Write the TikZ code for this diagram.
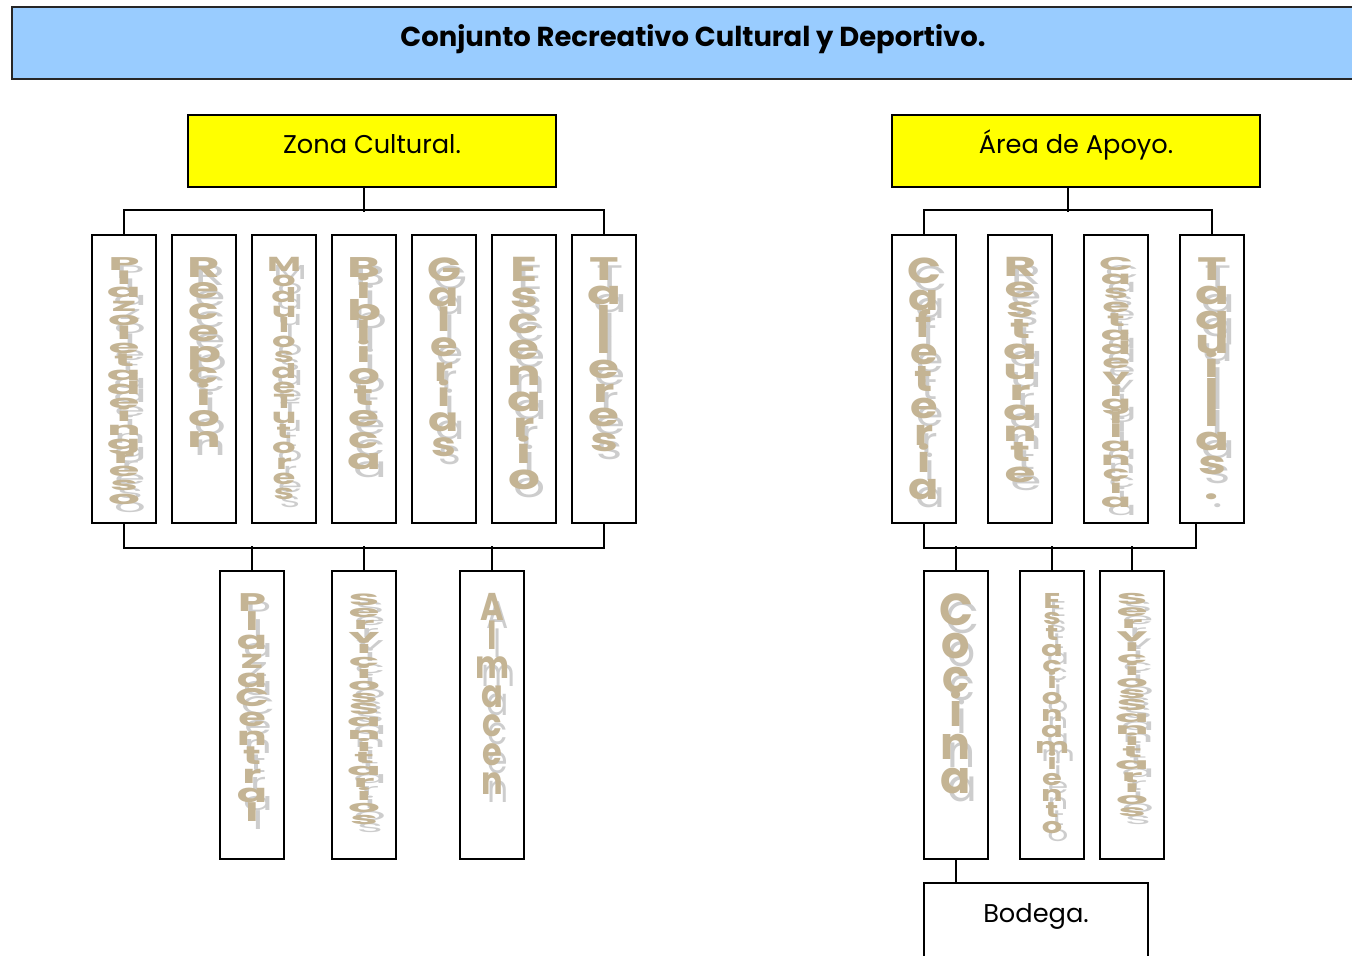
\documentclass[tikz,border=0pt]{standalone}
\usepackage{fontspec}
\setmainfont{Poppins}
\usepackage{graphicx}
\usetikzlibrary{positioning}
\usepackage{xcolor}
\definecolor{titlecolor}{RGB}{153,204,255}
\definecolor{zonecolor}{RGB}{255,255,0}
\definecolor{lettercolor}{RGB}{196,180,148}
\definecolor{shadowcolor}{RGB}{205,205,205}

% stack the letters of a word one under the other, squeezed to a given height
\makeatletter
\def\stack@letters#1{\ifx\relax#1\else#1\cr\expandafter\stack@letters\fi}
\newcommand{\vword}[2]{%
  \edef\vword@rows{\stack@letters#2\relax}%
  \resizebox*{0.68cm}{#1}{\vbox{\baselineskip=15pt\lineskiplimit=-\maxdimen\lineskip=0pt
    \halign{\hfil##\hfil\cr\vword@rows}}}}
\makeatother

\begin{document}
\begin{tikzpicture}
  \tikzset{
    titlebar/.style={
      draw=black!85,
      line width=0.8pt,
      fill=titlecolor,
      minimum width=27.24cm,
      minimum height=1.44cm,
      text height=0.42cm,
      text depth=0.3cm,
      anchor=center,
      font=\bfseries\fontsize{15.6}{18}\selectfont
    },
    zone/.style={
      draw,
      line width=0.9pt,
      fill=zonecolor,
      minimum width=7.36cm,
      minimum height=1.44cm,
      text height=0.42cm,
      text depth=0.34cm,
      anchor=center,
      font=\fontsize{14.6}{17}\selectfont
    },
    cell/.style={
      draw,
      line width=0.9pt,
      minimum width=1.28cm,
      minimum height=5.76cm,
      inner sep=0pt,
      anchor=center,
      fill=white
    },
    letters/.style={
      inner sep=0pt,
      anchor=north,
      text=lettercolor,
      font=\bfseries\fontsize{20}{15}\selectfont
    },
    shade/.style={
      inner sep=0pt,
      anchor=north,
      text=shadowcolor,
      font=\fontsize{20}{15}\selectfont
    },
    link/.style={
      draw,
      line width=0.9pt
    }
  }

  \useasboundingbox (0,0) rectangle (27.04,-19.10);
  \clip (0,0) rectangle (27.04,-19.10);

  % Title bar
  \node[titlebar] (title) at (13.86,-0.86) {Conjunto Recreativo Cultural y Deportivo.};

  % The two zones
  \node[zone] (cultural) at (7.44,-3.02) {Zona Cultural.};
  \node[zone] (apoyo) at (21.52,-3.02) {Área de Apoyo.};

  % Zona Cultural, first row
  \node[cell] at (2.48,-7.58) (plazoleta) {};
  \node[shade, below=0.62cm of plazoleta.north, xshift=0.12cm] {\vword{4.94cm}{Plazoleta de ingreso}};
  \node[letters, below=0.46cm of plazoleta.north] {\vword{4.94cm}{Plazoleta de ingreso}};
  \node[cell] at (4.08,-7.58) (recepcion) {};
  \node[shade, below=0.62cm of recepcion.north, xshift=0.12cm] {\vword{3.80cm}{Recepcion}};
  \node[letters, below=0.46cm of recepcion.north] {\vword{3.80cm}{Recepcion}};
  \node[cell] at (5.68,-7.58) (modulos) {};
  \node[shade, below=0.62cm of modulos.north, xshift=0.12cm] {\vword{4.84cm}{Modulos de Tutores}};
  \node[letters, below=0.46cm of modulos.north] {\vword{4.84cm}{Modulos de Tutores}};
  \node[cell] at (7.28,-7.58) (biblioteca) {};
  \node[shade, below=0.62cm of biblioteca.north, xshift=0.12cm] {\vword{4.24cm}{Biblioteca}};
  \node[letters, below=0.46cm of biblioteca.north] {\vword{4.24cm}{Biblioteca}};
  \node[cell] at (8.88,-7.58) (galerias) {};
  \node[shade, below=0.62cm of galerias.north, xshift=0.12cm] {\vword{3.98cm}{Galerias}};
  \node[letters, below=0.46cm of galerias.north] {\vword{3.98cm}{Galerias}};
  \node[cell] at (10.48,-7.58) (escenario) {};
  \node[shade, below=0.62cm of escenario.north, xshift=0.12cm] {\vword{4.64cm}{Escenario}};
  \node[letters, below=0.46cm of escenario.north] {\vword{4.64cm}{Escenario}};
  \node[cell] at (12.08,-7.58) (talleres) {};
  \node[shade, below=0.62cm of talleres.north, xshift=0.12cm] {\vword{3.88cm}{Talleres}};
  \node[letters, below=0.46cm of talleres.north] {\vword{3.88cm}{Talleres}};

  % Zona Cultural, second row
  \node[cell] at (5.04,-14.30) (plaza) {};
  \node[shade, below=0.62cm of plaza.north, xshift=0.12cm] {\vword{4.56cm}{Plaza Central}};
  \node[letters, below=0.46cm of plaza.north] {\vword{4.56cm}{Plaza Central}};
  \node[cell] at (7.28,-14.30) (sanitarios) {};
  \node[shade, below=0.62cm of sanitarios.north, xshift=0.12cm] {\vword{4.62cm}{Servicios Sanitarios}};
  \node[letters, below=0.46cm of sanitarios.north] {\vword{4.62cm}{Servicios Sanitarios}};
  \node[cell] at (9.84,-14.30) (almacen) {};
  \node[shade, below=0.62cm of almacen.north, xshift=0.12cm] {\vword{4.02cm}{Almacen}};
  \node[letters, below=0.46cm of almacen.north] {\vword{4.02cm}{Almacen}};

  % Area de Apoyo, first row
  \node[cell] at (18.48,-7.58) (cafeteria) {};
  \node[shade, below=0.62cm of cafeteria.north, xshift=0.12cm] {\vword{4.84cm}{Cafeteria}};
  \node[letters, below=0.46cm of cafeteria.north] {\vword{4.84cm}{Cafeteria}};
  \node[cell] at (20.40,-7.58) (restaurante) {};
  \node[shade, below=0.62cm of restaurante.north, xshift=0.12cm] {\vword{4.50cm}{Restaurante}};
  \node[letters, below=0.46cm of restaurante.north] {\vword{4.50cm}{Restaurante}};
  \node[cell] at (22.32,-7.58) (caseta) {};
  \node[shade, below=0.62cm of caseta.north, xshift=0.12cm] {\vword{5.00cm}{Caseta de vigilancia}};
  \node[letters, below=0.46cm of caseta.north] {\vword{5.00cm}{Caseta de vigilancia}};
  \node[cell] at (24.24,-7.58) (taquillas) {};
  \node[shade, below=0.62cm of taquillas.north, xshift=0.12cm] {\vword{4.84cm}{Taquillas.}};
  \node[letters, below=0.46cm of taquillas.north] {\vword{4.84cm}{Taquillas.}};

  % Area de Apoyo, second row
  \node[cell] at (19.12,-14.30) (cocina) {};
  \node[shade, below=0.62cm of cocina.north, xshift=0.12cm] {\vword{4.00cm}{Cocina}};
  \node[letters, below=0.46cm of cocina.north] {\vword{4.00cm}{Cocina}};
  \node[cell] at (21.04,-14.30) (estacionamiento) {};
  \node[shade, below=0.62cm of estacionamiento.north, xshift=0.12cm] {\vword{4.80cm}{Estacionamiento}};
  \node[letters, below=0.46cm of estacionamiento.north] {\vword{4.80cm}{Estacionamiento}};
  \node[cell] at (22.64,-14.30) (servicios) {};
  \node[shade, below=0.62cm of servicios.north, xshift=0.12cm] {\vword{4.46cm}{Servicios Sanitarios}};
  \node[letters, below=0.46cm of servicios.north] {\vword{4.46cm}{Servicios Sanitarios}};

  % Bodega under the kitchen
  \node[cell, minimum width=4.48cm, minimum height=1.52cm, text height=0.42cm, text depth=0.38cm,
        font=\fontsize{14.6}{17}\selectfont] at (20.72,-18.42) (bodega) {Bodega.};

  % Connectors of Zona Cultural
  \draw[link] ([xshift=-0.16cm]cultural.south) -- ++(0,-0.48);
  \draw[link] (plazoleta.north) -- ++(0,0.48) -| (talleres.north);
  \draw[link] (plazoleta.south) -- ++(0,-0.48) -| (talleres.south);
  \draw[link] (plaza.north) -- ++(0,0.48);
  \draw[link] (sanitarios.north) -- ++(0,0.48);
  \draw[link] (almacen.north) -- ++(0,0.48);

  % Connectors of Area de Apoyo
  \draw[link] ([xshift=-0.16cm]apoyo.south) -- ++(0,-0.48);
  \draw[link] (cafeteria.north) -- ++(0,0.48) -| (taquillas.north);
  \draw[link] (cafeteria.south) -- ++(0,-0.48) -| ([xshift=-0.32cm]taquillas.south);
  \draw[link] (cocina.north) -- ++(0,0.48);
  \draw[link] (estacionamiento.north) -- ++(0,0.48);
  \draw[link] (servicios.north) -- ++(0,0.48);
  \draw[link] (cocina.south) -- (bodega.north -| cocina.south);

\end{tikzpicture}
\end{document}
